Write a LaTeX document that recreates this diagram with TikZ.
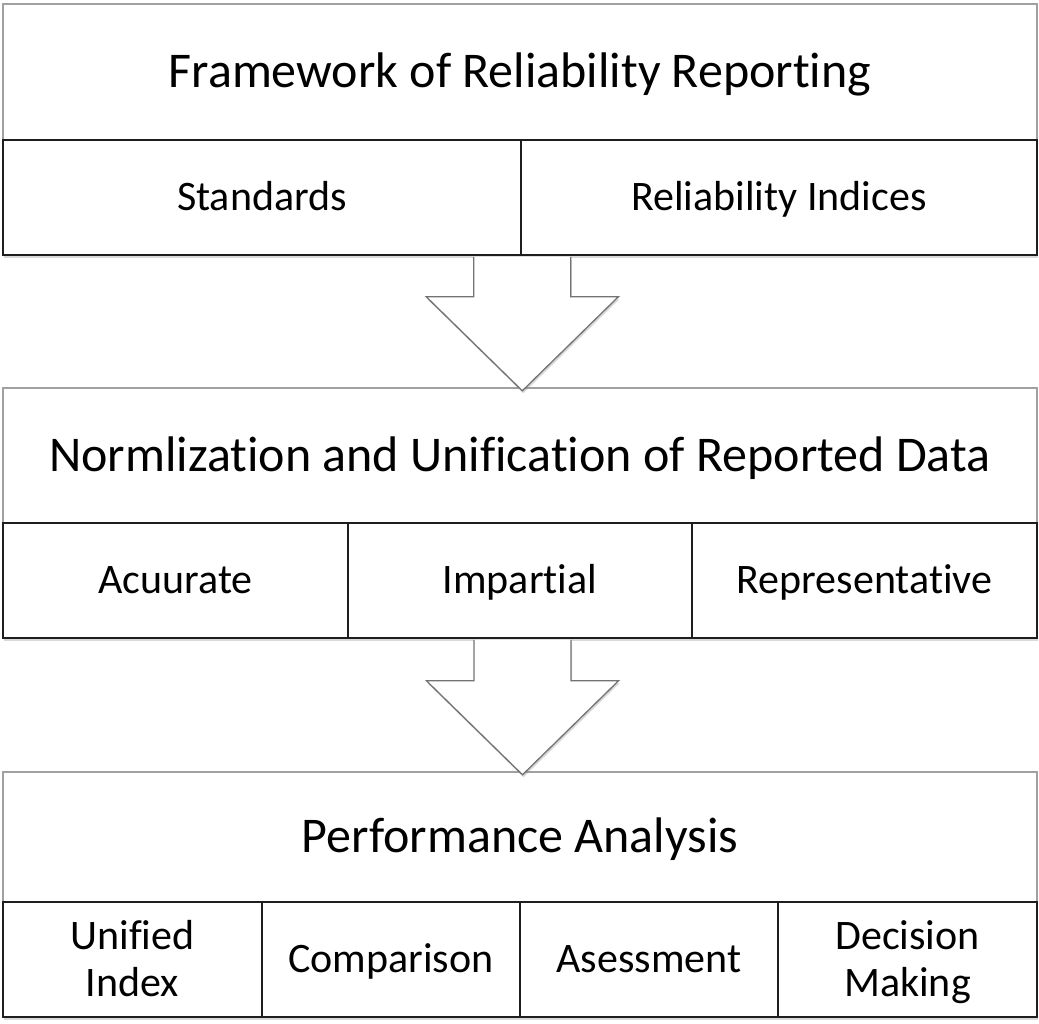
\documentclass[tikz,border=0pt]{standalone}
\usepackage{fontspec}
\setmainfont[Ligatures=NoCommon]{Carlito}
\usetikzlibrary{calc,shadows}
\definecolor{hdrgray}{RGB}{160,160,160}
\definecolor{cellline}{RGB}{30,30,30}
\definecolor{arrgray}{RGB}{115,115,115}
\tikzset{
  hdr/.style={rectangle, draw=hdrgray, line width=1.3pt, fill=white, inner sep=0pt,
    font=\fontsize{50}{60}\selectfont, text height=31.6pt, text depth=0pt},
  cellshadow/.style={drop shadow={shadow xshift=0.8pt, shadow yshift=-2.5pt, opacity=0.3}},
  cell/.style={rectangle, draw=cellline, line width=1.6pt, fill=white, inner sep=0pt,
    font=\fontsize{42}{47}\selectfont, align=center, text height=26.5pt, text depth=0pt,
    minimum height=115pt, cellshadow},
  twoline/.style={text height=73.5pt},
  bigarrow/.style={draw=arrgray, line width=1.3pt, fill=white, line join=miter,
    drop shadow={shadow xshift=1pt, shadow yshift=-2.5pt, opacity=0.3}}
}
\begin{document}
\begin{tikzpicture}[x=1pt,y=-1pt]
\useasboundingbox (0,0) rectangle (1039,1023);
% group 1
\node[hdr, minimum width=1034pt, minimum height=136pt] (h1) at (520,72) {Framework of Reliability Reporting};
\node[cell, minimum width=518pt] (c1a) at (262,197.5) {Standards};
\node[cell, minimum width=516pt] (c1b) at (779,197.5) {Reliability Indices};
% group 2
\node[hdr, minimum width=1034pt, minimum height=135pt] (h2) at (520,455.5) {Normlization and Unification of Reported Data};
\node[cell, minimum width=345pt] (c2a) at (175.5,580.5) {Acuurate};
\node[cell, minimum width=344pt] (c2b) at (520,580.5) {Impartial};
\node[cell, minimum width=345pt] (c2c) at (864.5,580.5) {Representative};
% group 3
\node[hdr, minimum width=1034pt, minimum height=130pt] (h3) at (520,837) {Performance Analysis};
\node[cell, twoline, minimum width=259pt] (c3a) at (132.5,959.5) {Unified\\Index};
\node[cell, minimum width=258pt] (c3b) at (391,959.5) {Comparison};
\node[cell, minimum width=258pt] (c3c) at (649,959.5) {Asessment};
\node[cell, twoline, minimum width=259pt] (c3d) at (907.5,959.5) {Decision\\Making};
% arrows
\coordinate (a1) at ($(c1a.south east)+(0.5,1)$);
\coordinate (t1) at ($(a1)+(0,134)$);
\draw[bigarrow] ($(a1)+(-48.5,0)$) -- ($(a1)+(-48.5,40)$) -- ($(a1)+(-96,40)$) -- (t1)
  -- ($(a1)+(96,40)$) -- ($(a1)+(48.5,40)$) -- ($(a1)+(48.5,0)$);
\coordinate (a2) at ($(c2b.south)+(2.5,1)$);
\coordinate (t2) at ($(a2)+(0,135)$);
\draw[bigarrow] ($(a2)+(-48.5,0)$) -- ($(a2)+(-48.5,41)$) -- ($(a2)+(-96,41)$) -- (t2)
  -- ($(a2)+(96,41)$) -- ($(a2)+(48.5,41)$) -- ($(a2)+(48.5,0)$);
\end{tikzpicture}
\end{document}
